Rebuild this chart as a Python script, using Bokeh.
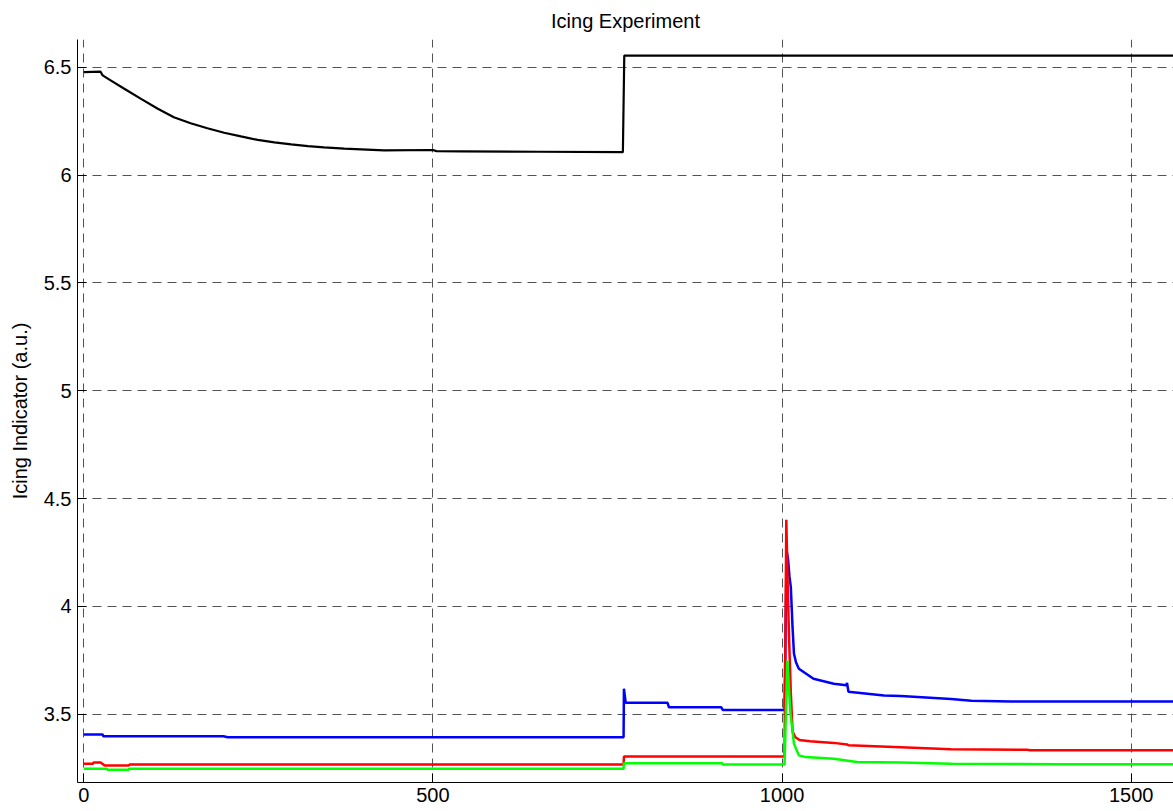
from bokeh.plotting import figure
from bokeh.models import FixedTicker, Range1d
from bokeh.embed import file_html
from bokeh.resources import INLINE

# ---------------- data ----------------
title_text = "Icing Experiment"
y_label = "Icing Indicator (a.u.)"

x_ticks = [0, 500, 1000, 1500]
x_tick_labels = ["0", "500", "1000", "1500"]
y_ticks = [3.5, 4.0, 4.5, 5.0, 5.5, 6.0, 6.5]
y_tick_labels = ["3.5", "4", "4.5", "5", "5.5", "6", "6.5"]

time_black = [0, 24, 27, 39, 58, 82, 106, 129, 153, 177, 201, 225, 249, 273,
              297, 321, 344, 373, 430, 500, 505, 540, 650, 772, 774, 1570]
black = [6.477, 6.479, 6.462, 6.438, 6.400, 6.353, 6.307, 6.268, 6.240, 6.217,
         6.196, 6.179, 6.163, 6.151, 6.142, 6.134, 6.128, 6.122, 6.114, 6.116,
         6.111, 6.110, 6.108, 6.106, 6.554, 6.554]

time_blue = [0, 27, 28, 200, 206, 773, 773.5, 776, 836, 838, 913, 915, 1003.5,
             1006.5, 1008.5, 1010.5, 1012.5, 1015, 1017, 1020, 1024, 1045, 1074,
             1092, 1093, 1095, 1146, 1170, 1242, 1271, 1328, 1570]
blue = [3.406, 3.406, 3.398, 3.398, 3.393, 3.393, 3.618, 3.553, 3.553, 3.532,
        3.532, 3.520, 3.520, 4.259, 4.220, 4.140, 4.089, 3.900, 3.780, 3.740,
        3.711, 3.664, 3.641, 3.634, 3.645, 3.604, 3.587, 3.584, 3.570, 3.562,
        3.559, 3.559]

time_red = [0, 13, 14, 24, 30, 64, 66, 773, 773.5, 1003.5, 1006, 1008, 1010,
            1012.5, 1015, 1019, 1025, 1040, 1074, 1093, 1095, 1170, 1242, 1351,
            1355, 1570]
red = [3.270, 3.270, 3.276, 3.276, 3.262, 3.262, 3.267, 3.267, 3.304, 3.304,
       4.401, 4.100, 3.850, 3.600, 3.420, 3.393, 3.380, 3.375, 3.367, 3.360,
       3.356, 3.347, 3.338, 3.335, 3.333, 3.333]

time_green = [0, 33, 34, 64, 65, 773, 773.5, 914, 915, 1003.5, 1007.5, 1012,
              1017, 1024, 1034, 1074, 1107, 1170, 1242, 1395, 1570]
green = [3.247, 3.247, 3.242, 3.242, 3.247, 3.247, 3.273, 3.273, 3.267, 3.267,
         3.749, 3.503, 3.363, 3.309, 3.301, 3.293, 3.278, 3.276, 3.270, 3.268,
         3.268]

# ---------------- figure ----------------
FONT = "Liberation Sans"

p = figure(width=1173, height=811, output_backend="svg", toolbar_location=None,
           x_range=Range1d(-9.0, 1560.5), y_range=Range1d(3.1833, 6.6284),
           min_border_left=77, min_border_right=0, min_border_top=39,
           min_border_bottom=29)

p.title.text = title_text
p.title.align = "center"
p.title.offset = 4
p.title.text_font = FONT
p.title.text_font_size = "20px"
p.title.text_font_style = "normal"
p.title.text_color = "#000000"
p.title.standoff = 15

p.outline_line_color = None
p.background_fill_color = "#ffffff"
p.border_fill_color = "#ffffff"

for ax in (p.xaxis, p.yaxis):
    ax.axis_line_color = "#000000"
    ax.axis_line_width = 1
    ax.major_tick_line_color = "#000000"
    ax.major_tick_in = 9
    ax.major_tick_out = 0
    ax.minor_tick_line_color = None
    ax.major_label_text_font = FONT
    ax.major_label_text_font_size = "20px"
    ax.major_label_text_color = "#000000"

p.xaxis.ticker = FixedTicker(ticks=x_ticks)
p.xaxis.major_label_overrides = dict(zip(x_ticks, x_tick_labels))
p.xaxis.major_label_standoff = 5

p.yaxis.ticker = FixedTicker(ticks=y_ticks)
p.yaxis.major_label_overrides = dict(zip(y_ticks, y_tick_labels))
p.yaxis.major_label_standoff = 6
p.yaxis.axis_label = y_label
p.yaxis.axis_label_text_font = FONT
p.yaxis.axis_label_text_font_size = "20px"
p.yaxis.axis_label_text_font_style = "normal"
p.yaxis.axis_label_text_color = "#000000"
p.yaxis.axis_label_standoff = 10

for g in (p.xgrid, p.ygrid):
    g.grid_line_color = "#404040"
    g.grid_line_width = 1
    g.grid_line_dash = "9 6"
    g.grid_line_alpha = 0.9

p.line(time_black, black, line_color="#000000", line_width=2.2)
p.line(time_blue, blue, line_color="#0000ff", line_width=2.5)
p.line(time_red, red, line_color="#ff0000", line_width=2.5)
p.line(time_green, green, line_color="#00ff00", line_width=2.5)

open("out.html", "w").write(file_html(p, INLINE))
